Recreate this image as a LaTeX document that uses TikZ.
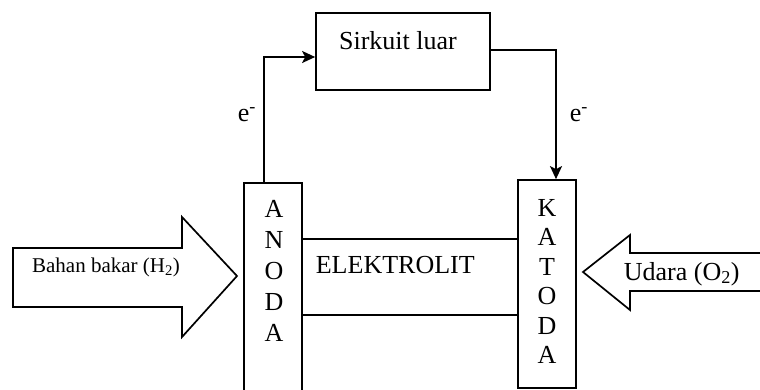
\documentclass[tikz,border=0pt]{standalone}
\usepackage{fontspec}
\setmainfont{Liberation Serif}
\usetikzlibrary{arrows.meta,fit}
\begin{document}
\begin{tikzpicture}[x=1pt,y=-1pt,line width=1.7pt,
  box/.style={draw,rectangle,inner sep=0pt},
  txt/.style={font=\fontsize{26}{26}\selectfont,inner sep=0pt},
  small/.style={font=\fontsize{21}{21}\selectfont,inner sep=0pt},
  wire/.style={-{Stealth[length=13pt,width=12pt,inset=3pt]}},
  bigarrow/.style={draw,line join=miter}]
\useasboundingbox (0,0) rectangle (760,390);
\clip (0,0) rectangle (760,390);

% external circuit
\node[box,fit={(316,13)(490,90)}] (sirk) {};
\node[txt] (sirktext) at (398,41) {Sirkuit luar};

% electrodes and electrolyte
\node[box,fit={(244,183)(302,430)}] (anode) {};
\node[box,fit={(518,180)(576,388)}] (katoda) {};
\node[box,fit={(302,239)(518,315)}] (elek) {};
\node[txt,anchor=west] (elektext) at (315,265) {ELEKTROLIT};

\foreach \l [count=\i] in {A,N,O,D,A}
  \node[txt] (an\i) at (274,{209+31*(\i-1)}) {\l};
\foreach \l [count=\i] in {K,A,T,O,D,A}
  \node[txt] (ka\i) at (547,{208+29.4*(\i-1)}) {\l};

% electron flow
\coordinate (w1) at (264,57);
\coordinate (w2) at (556,50);
\draw[wire] (anode.north -| w1) -- (w1) -- (sirk.west |- w1);
\draw[wire] (sirk.east |- w2) -- (w2) -- (katoda.north -| w2);
\node[txt,anchor=base west] (e1) at (237,122) {e\textsuperscript{-}};
\node[txt,anchor=base west] (e2) at (569,122) {e\textsuperscript{-}};

% fuel inlet
\draw[bigarrow] (13,248) -- (182,248) -- (182,217) -- (237,276)
  -- (182,337) -- (182,307) -- (13,307) -- cycle;
\node[small] (fuel) at (106,267) {Bahan bakar (H\textsubscript{2})};

% air inlet
\draw[bigarrow] (775,253) -- (630,253) -- (630,235) -- (583,272)
  -- (630,310) -- (630,291) -- (775,291);
\node[txt,anchor=west] (air) at (623,274) {Udara (O\textsubscript{2})};
\end{tikzpicture}
\end{document}
